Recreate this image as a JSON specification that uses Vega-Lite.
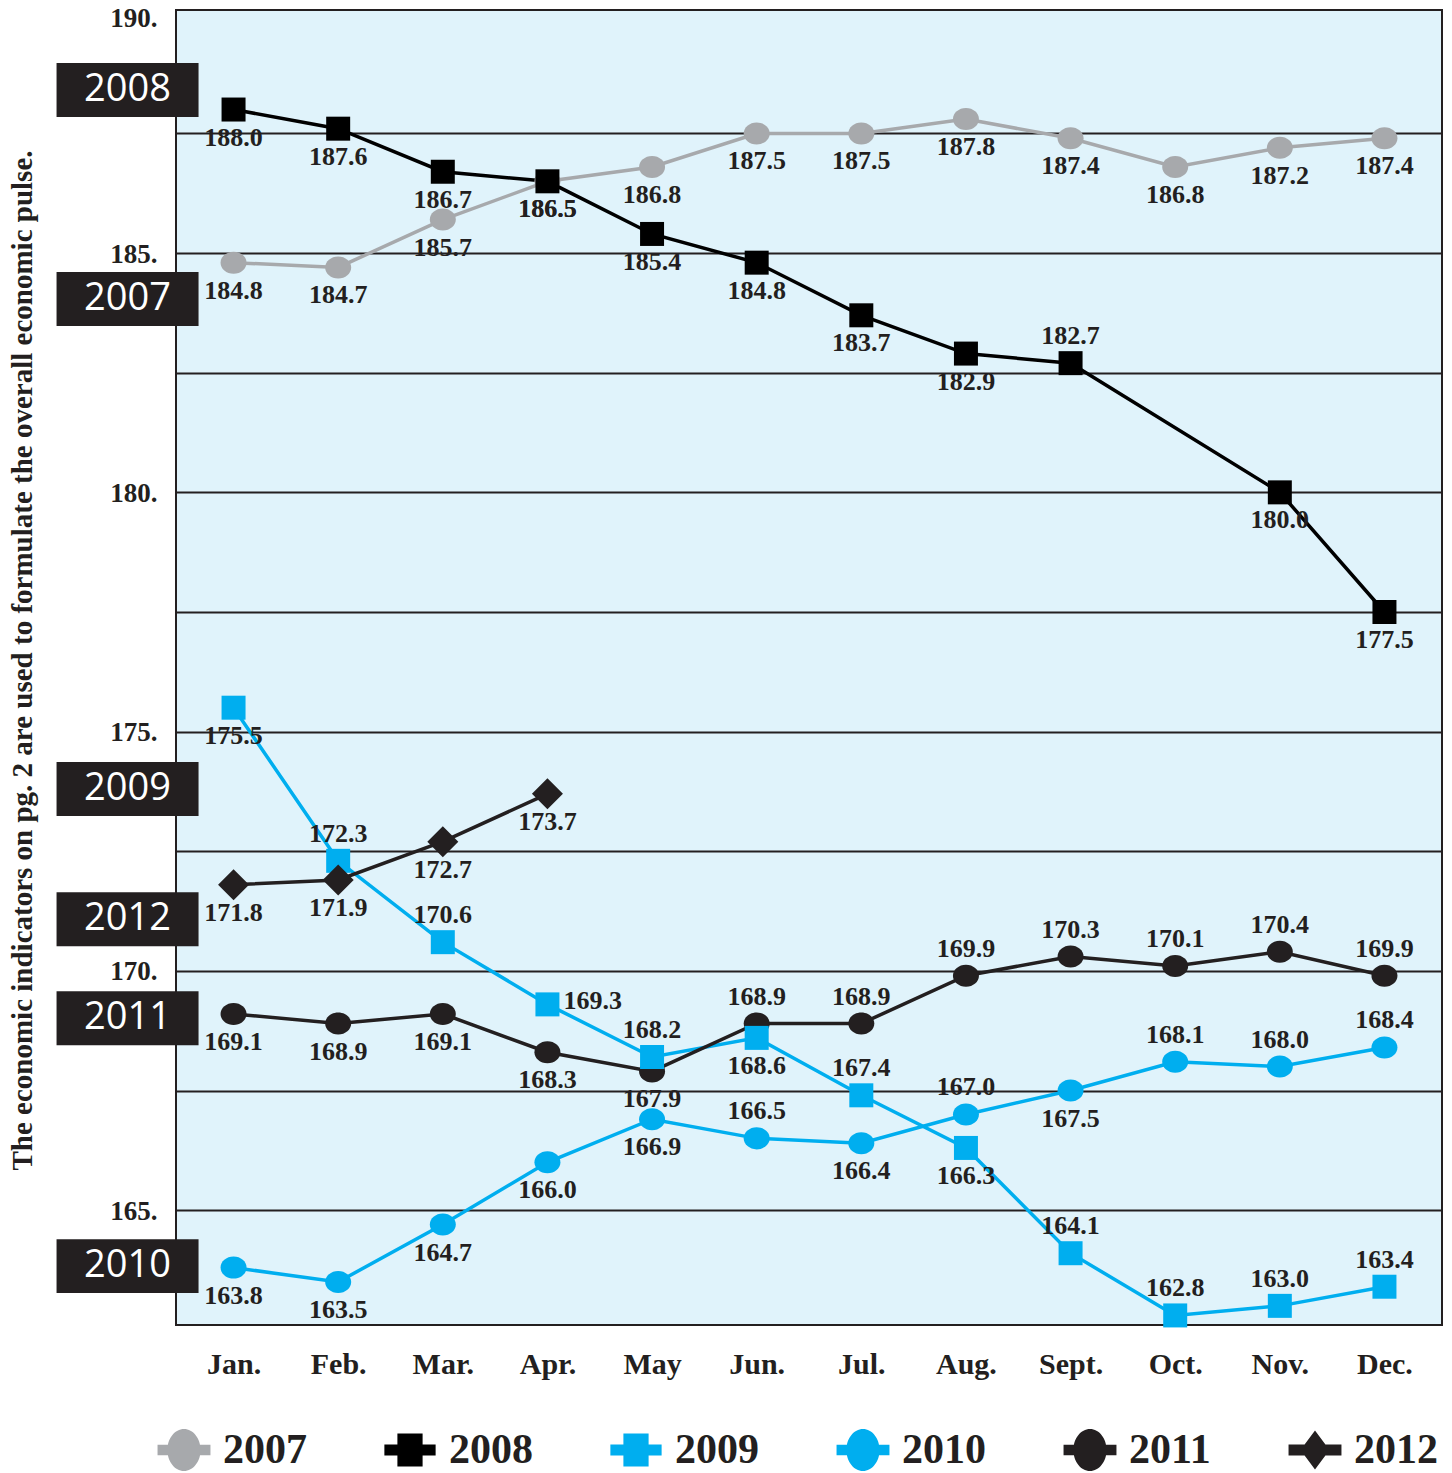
{
  "$schema": "https://vega.github.io/schema/vega-lite/v6.json",
  "width": 1266,
  "height": 1315,
  "autosize": {"type": "none"},
  "padding": {"left": 176, "top": 10, "right": 10, "bottom": 148},
  "background": "white",
  "config": {
    "view": {"fill": "#e0f3fb", "stroke": "#231f20", "strokeWidth": 2},
    "font": "Liberation Serif",
    "legend": {
      "orient": "none",
      "legendX": -13,
      "legendY": 1419,
      "direction": "horizontal",
      "columns": 6,
      "columnPadding": 77,
      "symbolSize": 1764,
      "symbolOpacity": 1,
      "symbolStrokeWidth": 0,
      "labelFont": "Liberation Serif",
      "labelFontWeight": "bold",
      "labelFontSize": 42,
      "labelColor": "#231f20",
      "labelOffset": 18
    }
  },
  "datasets": {
    "idx": [
      {"year": "2007", "month": "Jan.", "value": 184.8},
      {"year": "2007", "month": "Feb.", "value": 184.7},
      {"year": "2007", "month": "Mar.", "value": 185.7},
      {"year": "2007", "month": "Apr.", "value": 186.5},
      {"year": "2007", "month": "May", "value": 186.8},
      {"year": "2007", "month": "Jun.", "value": 187.5},
      {"year": "2007", "month": "Jul.", "value": 187.5},
      {"year": "2007", "month": "Aug.", "value": 187.8},
      {"year": "2007", "month": "Sept.", "value": 187.4},
      {"year": "2007", "month": "Oct.", "value": 186.8},
      {"year": "2007", "month": "Nov.", "value": 187.2},
      {"year": "2007", "month": "Dec.", "value": 187.4},
      {"year": "2008", "month": "Jan.", "value": 188.0},
      {"year": "2008", "month": "Feb.", "value": 187.6},
      {"year": "2008", "month": "Mar.", "value": 186.7},
      {"year": "2008", "month": "Apr.", "value": 186.5},
      {"year": "2008", "month": "May", "value": 185.4},
      {"year": "2008", "month": "Jun.", "value": 184.8},
      {"year": "2008", "month": "Jul.", "value": 183.7},
      {"year": "2008", "month": "Aug.", "value": 182.9},
      {"year": "2008", "month": "Sept.", "value": 182.7},
      {"year": "2008", "month": "Nov.", "value": 180.0},
      {"year": "2008", "month": "Dec.", "value": 177.5},
      {"year": "2009", "month": "Jan.", "value": 175.5},
      {"year": "2009", "month": "Feb.", "value": 172.3},
      {"year": "2009", "month": "Mar.", "value": 170.6},
      {"year": "2009", "month": "Apr.", "value": 169.3},
      {"year": "2009", "month": "May", "value": 168.2},
      {"year": "2009", "month": "Jun.", "value": 168.6},
      {"year": "2009", "month": "Jul.", "value": 167.4},
      {"year": "2009", "month": "Aug.", "value": 166.3},
      {"year": "2009", "month": "Sept.", "value": 164.1},
      {"year": "2009", "month": "Oct.", "value": 162.8},
      {"year": "2009", "month": "Nov.", "value": 163.0},
      {"year": "2009", "month": "Dec.", "value": 163.4},
      {"year": "2010", "month": "Jan.", "value": 163.8},
      {"year": "2010", "month": "Feb.", "value": 163.5},
      {"year": "2010", "month": "Mar.", "value": 164.7},
      {"year": "2010", "month": "Apr.", "value": 166.0},
      {"year": "2010", "month": "May", "value": 166.9},
      {"year": "2010", "month": "Jun.", "value": 166.5},
      {"year": "2010", "month": "Jul.", "value": 166.4},
      {"year": "2010", "month": "Aug.", "value": 167.0},
      {"year": "2010", "month": "Sept.", "value": 167.5},
      {"year": "2010", "month": "Oct.", "value": 168.1},
      {"year": "2010", "month": "Nov.", "value": 168.0},
      {"year": "2010", "month": "Dec.", "value": 168.4},
      {"year": "2011", "month": "Jan.", "value": 169.1},
      {"year": "2011", "month": "Feb.", "value": 168.9},
      {"year": "2011", "month": "Mar.", "value": 169.1},
      {"year": "2011", "month": "Apr.", "value": 168.3},
      {"year": "2011", "month": "May", "value": 167.9},
      {"year": "2011", "month": "Jun.", "value": 168.9},
      {"year": "2011", "month": "Jul.", "value": 168.9},
      {"year": "2011", "month": "Aug.", "value": 169.9},
      {"year": "2011", "month": "Sept.", "value": 170.3},
      {"year": "2011", "month": "Oct.", "value": 170.1},
      {"year": "2011", "month": "Nov.", "value": 170.4},
      {"year": "2011", "month": "Dec.", "value": 169.9},
      {"year": "2012", "month": "Jan.", "value": 171.8},
      {"year": "2012", "month": "Feb.", "value": 171.9},
      {"year": "2012", "month": "Mar.", "value": 172.7},
      {"year": "2012", "month": "Apr.", "value": 173.7}
    ],
    "tags": [
      {"year": "2007", "level": 184.04},
      {"year": "2008", "level": 188.41},
      {"year": "2009", "level": 173.8},
      {"year": "2010", "level": 163.83},
      {"year": "2011", "level": 169.01},
      {"year": "2012", "level": 171.08}
    ]
  },
  "data": {"name": "idx"},
  "encoding": {
    "x": {
      "field": "month",
      "type": "ordinal",
      "sort": null,
      "scale": {
        "type": "point",
        "padding": 0.55,
        "domain": ["Jan.", "Feb.", "Mar.", "Apr.", "May", "Jun.", "Jul.", "Aug.", "Sept.", "Oct.", "Nov.", "Dec."]
      },
      "axis": {
        "title": null,
        "labelAngle": 0,
        "labelFont": "Liberation Serif",
        "labelFontWeight": "bold",
        "labelFontSize": 30,
        "labelColor": "#231f20",
        "labelPadding": 24,
        "ticks": false,
        "domain": false,
        "grid": false
      }
    },
    "y": {
      "field": "value",
      "type": "quantitative",
      "scale": {"domain": [162.6, 190.08], "nice": false, "zero": false},
      "axis": {
        "title": "The economic indicators on pg. 2 are used to formulate the overall economic pulse.",
        "titleFont": "Liberation Serif",
        "titleFontWeight": "bold",
        "titleFontSize": 29,
        "titleColor": "#231f20",
        "titleAngle": -90,
        "titleX": -154,
        "titleY": 650,
        "titleAlign": "center",
        "titleBaseline": "middle",
        "values": [165, 167.5, 170, 172.5, 175, 177.5, 180, 182.5, 185, 187.5, 190],
        "labelExpr": "datum.value % 5 == 0 ? datum.value + '.' : ''",
        "labelFont": "Liberation Serif",
        "labelFontWeight": "bold",
        "labelFontSize": 27,
        "labelColor": "#231f20",
        "labelPadding": 19,
        "labelOverlap": false,
        "labelOffset": {"condition": {"test": "datum.value >= 190", "value": 5}, "value": 1},
        "ticks": false,
        "domain": false,
        "grid": true,
        "gridColor": "#231f20",
        "gridWidth": 2,
        "gridOpacity": {"condition": {"test": "datum.value >= 190", "value": 0}, "value": 1}
      }
    }
  },
  "layer": [
    {
      "mark": {"type": "line", "strokeWidth": 3.5},
      "encoding": {
        "color": {
          "field": "year",
          "type": "nominal",
          "scale": {
            "domain": ["2007", "2008", "2009", "2010", "2011", "2012"],
            "range": ["#a7a9ac", "#000000", "#00aeef", "#00aeef", "#231f20", "#231f20"]
          },
          "legend": null
        },
        "order": {"value": null}
      }
    },
    {
      "transform": [{"filter": {"field": "year", "oneOf": ["2007", "2010", "2011"]}}],
      "mark": {
        "type": "point",
        "filled": true,
        "opacity": 1,
        "size": 961,
        "shape": "M-0.839,0A0.839,0.71,0,1,1,0.839,0A0.839,0.71,0,1,1,-0.839,0Z"
      },
      "encoding": {
        "color": {"field": "year", "type": "nominal", "legend": null}
      }
    },
    {
      "transform": [{"filter": {"field": "year", "oneOf": ["2008", "2009"]}}],
      "mark": {
        "type": "point",
        "filled": true,
        "opacity": 1,
        "size": 961,
        "shape": "M-0.774,-0.774H0.774V0.774H-0.774Z"
      },
      "encoding": {
        "color": {"field": "year", "type": "nominal", "legend": null}
      }
    },
    {
      "transform": [{"filter": {"field": "year", "equal": "2012"}}],
      "mark": {"type": "point", "filled": true, "opacity": 1, "size": 961, "shape": "diamond"},
      "encoding": {
        "color": {"field": "year", "type": "nominal", "legend": null}
      }
    },
    {
      "transform": [
        {"filter": "!((datum.year=='2009' && datum.month=='Apr.') || (datum.year=='2008' && datum.month=='Sept.') || (datum.year=='2009' && indexof(['Feb.','Mar.','May','Jul.','Sept.','Oct.','Nov.','Dec.'], datum.month) >= 0) || (datum.year=='2010' && indexof(['Jun.','Aug.','Oct.','Nov.','Dec.'], datum.month) >= 0) || (datum.year=='2011' && indexof(['Jun.','Jul.','Aug.','Sept.','Oct.','Nov.','Dec.'], datum.month) >= 0))"}
      ],
      "mark": {
        "type": "text",
        "dy": 28,
        "font": "Liberation Serif",
        "fontWeight": "bold",
        "fontSize": 26,
        "color": "#231f20",
        "baseline": "middle"
      },
      "encoding": {"text": {"field": "value", "type": "quantitative", "format": ".1f"}}
    },
    {
      "transform": [
        {"filter": "(datum.year=='2008' && datum.month=='Sept.') || (datum.year=='2009' && indexof(['Feb.','Mar.','May','Jul.','Sept.','Oct.','Nov.','Dec.'], datum.month) >= 0) || (datum.year=='2010' && indexof(['Jun.','Aug.','Oct.','Nov.','Dec.'], datum.month) >= 0) || (datum.year=='2011' && indexof(['Jun.','Jul.','Aug.','Sept.','Oct.','Nov.','Dec.'], datum.month) >= 0)"}
      ],
      "mark": {
        "type": "text",
        "dy": -27,
        "font": "Liberation Serif",
        "fontWeight": "bold",
        "fontSize": 26,
        "color": "#231f20",
        "baseline": "middle"
      },
      "encoding": {"text": {"field": "value", "type": "quantitative", "format": ".1f"}}
    },
    {
      "transform": [{"filter": "datum.year=='2009' && datum.month=='Apr.'"}],
      "mark": {
        "type": "text",
        "dx": 16,
        "dy": -3,
        "align": "left",
        "font": "Liberation Serif",
        "fontWeight": "bold",
        "fontSize": 26,
        "color": "#231f20",
        "baseline": "middle"
      },
      "encoding": {"text": {"field": "value", "type": "quantitative", "format": ".1f"}}
    },
    {
      "data": {"name": "tags"},
      "mark": {
        "type": "point",
        "filled": true,
        "opacity": 1,
        "color": "#231f20",
        "size": 20164,
        "xOffset": -106,
        "shape": "M-1,-0.38H1V0.38H-1Z"
      },
      "encoding": {
        "x": {"datum": "Jan.", "type": "ordinal"},
        "y": {"field": "level", "type": "quantitative"}
      }
    },
    {
      "data": {"name": "tags"},
      "mark": {
        "type": "text",
        "xOffset": -106,
        "font": "Open Sans",
        "fontSize": 38,
        "color": "white",
        "align": "center",
        "baseline": "middle"
      },
      "encoding": {
        "x": {"datum": "Jan.", "type": "ordinal"},
        "y": {"field": "level", "type": "quantitative"},
        "text": {"field": "year", "type": "nominal"}
      }
    },
    {
      "data": {"name": "tags"},
      "mark": {"type": "point", "filled": true, "opacity": 0},
      "encoding": {
        "x": {"datum": "Jan.", "type": "ordinal"},
        "y": {"field": "level", "type": "quantitative"},
        "fill": {
          "field": "year",
          "type": "nominal",
          "scale": {
            "range": ["#a7a9ac", "#000000", "#00aeef", "#00aeef", "#231f20", "#231f20"]
          },
          "legend": {"title": null}
        },
        "shape": {
          "field": "year",
          "type": "nominal",
          "scale": {
            "range": [
              "M-1.26,-0.25H1.26V0.25H-1.26Z M-0.79,0A0.79,1,0,1,1,0.79,0A0.79,1,0,1,1,-0.79,0Z",
              "M-1.22,-0.26H1.22V0.26H-1.22Z M-0.6,-0.79H0.6V0.79H-0.6Z",
              "M-1.22,-0.26H1.22V0.26H-1.22Z M-0.6,-0.79H0.6V0.79H-0.6Z",
              "M-1.26,-0.25H1.26V0.25H-1.26Z M-0.79,0A0.79,1,0,1,1,0.79,0A0.79,1,0,1,1,-0.79,0Z",
              "M-1.26,-0.25H1.26V0.25H-1.26Z M-0.79,0A0.79,1,0,1,1,0.79,0A0.79,1,0,1,1,-0.79,0Z",
              "M-1.26,-0.26H1.26V0.26H-1.26Z M0,-0.93L0.69,0L0,0.93L-0.69,0Z"
            ]
          },
          "legend": {"title": null}
        }
      }
    }
  ]
}
